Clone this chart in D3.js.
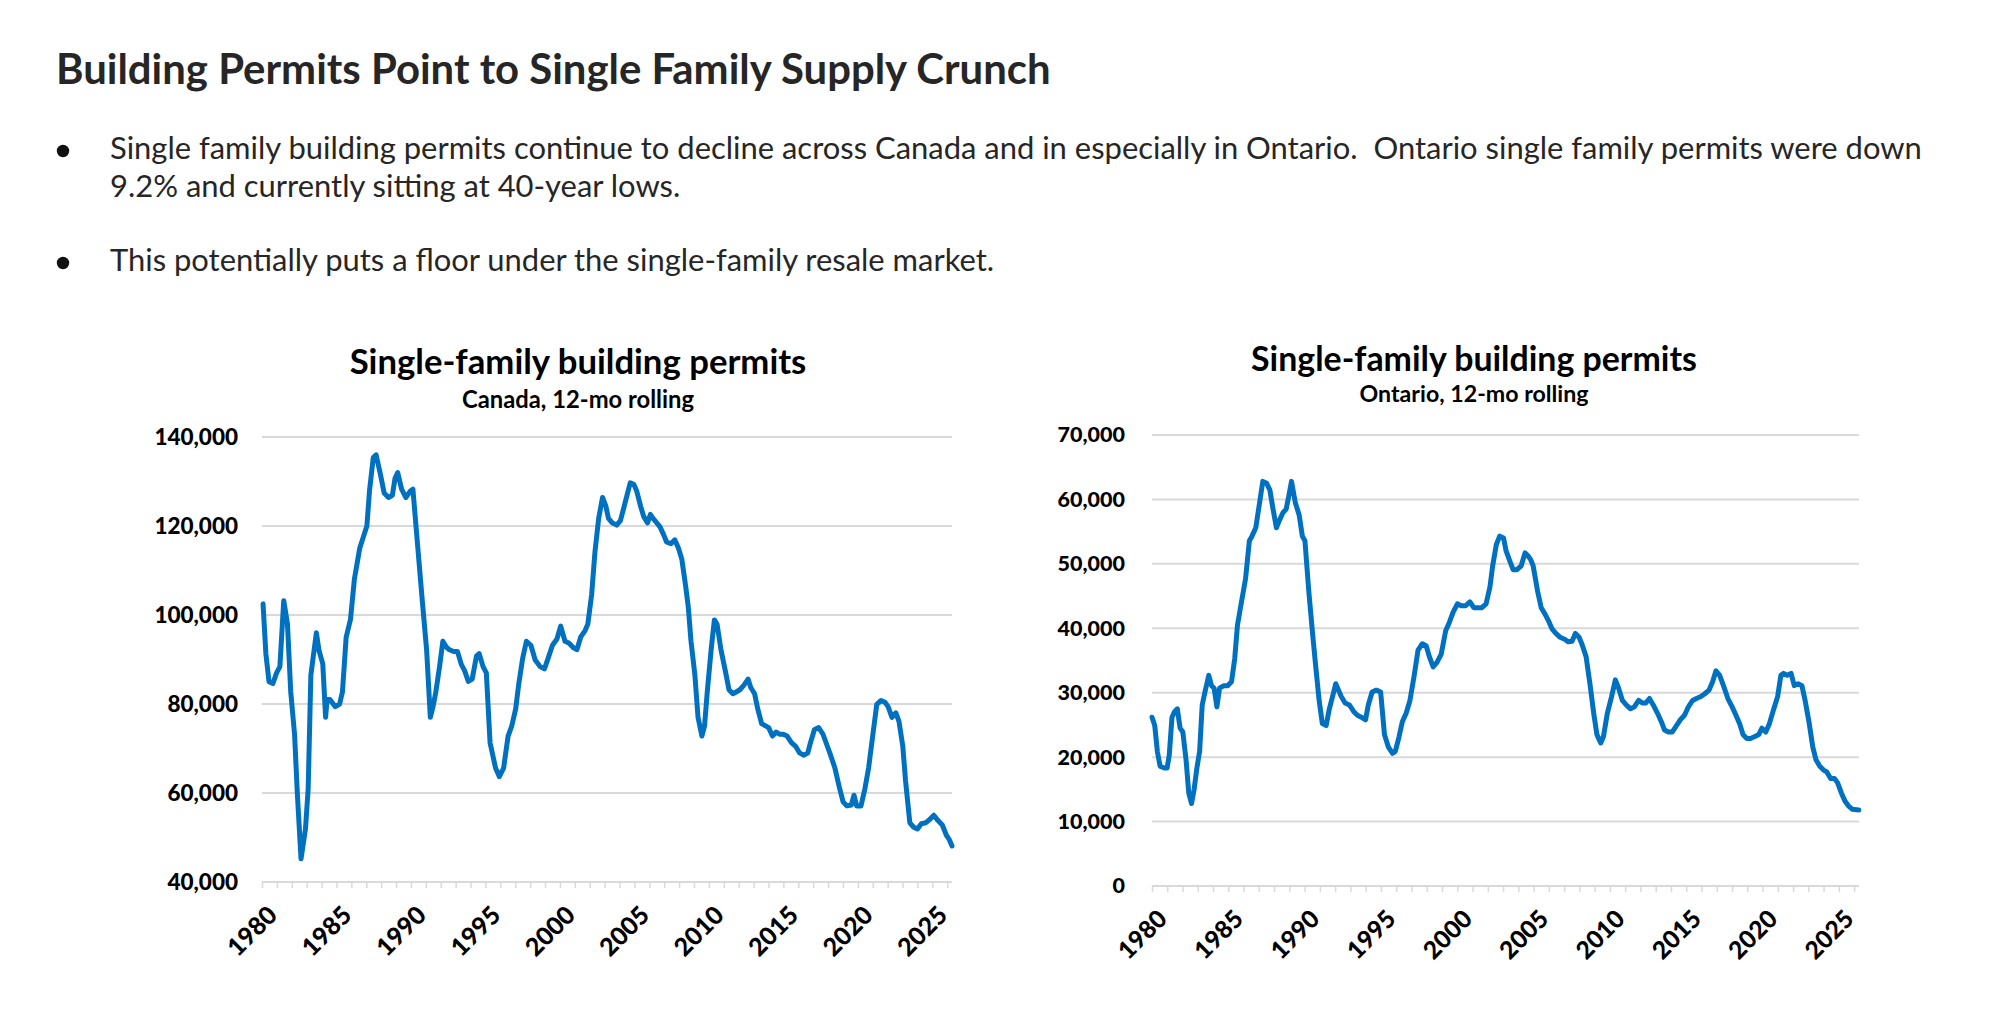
<!DOCTYPE html>
<html>
<head>
<meta charset="utf-8">
<script src="https://cdn.jsdelivr.net/npm/d3@7"></script>
<style>
  html, body { margin: 0; padding: 0; background: #ffffff; }
  svg { display: block; }
  text { white-space: pre; }
</style>
</head>
<body>
<svg id="chart" width="1995" height="1016"></svg>
<script>
// ---------------- DATA ----------------
const pageTitle = "Building Permits Point to Single Family Supply Crunch";
const bullet1Lines = [
  "Single family building permits continue to decline across Canada and in especially in Ontario.  Ontario single family permits were down",
  "9.2% and currently sitting at 40-year lows."
];
const bullet2Lines = ["This potentially puts a floor under the single-family resale market."];

const chartTitle = "Single-family building permits";
const canadaSubtitle = "Canada, 12-mo rolling";
const ontarioSubtitle = "Ontario, 12-mo rolling";

const yearTicks = d3.range(1980, 2027);           // minor tick marks (every year)
const yearLabels = [1980, 1985, 1990, 1995, 2000, 2005, 2010, 2015, 2020, 2025];
const canadaYTicks = [40000, 60000, 80000, 100000, 120000, 140000];
const ontarioYTicks = [0, 10000, 20000, 30000, 40000, 50000, 60000, 70000];

// [year, permits (thousands)]
const canadaSeries = [
  [1980.07,102.5],[1980.26,91.3],[1980.47,85.0],[1980.73,84.6],[1980.98,87.0],[1981.20,88.4],
  [1981.46,103.2],[1981.71,98.0],[1981.93,82.7],[1982.19,73.0],[1982.37,60.0],[1982.62,45.2],
  [1982.92,52.0],[1983.10,61.0],[1983.28,86.5],[1983.65,96.0],[1983.83,92.0],[1984.08,89.0],
  [1984.27,77.0],[1984.37,81.0],[1984.56,81.0],[1984.92,79.4],[1985.21,80.0],[1985.40,82.7],
  [1985.65,95.0],[1985.94,99.0],[1986.20,108.0],[1986.56,115.0],[1987.04,120.0],[1987.22,128.0],
  [1987.47,135.4],[1987.66,136.0],[1987.95,131.6],[1988.20,127.4],[1988.49,126.4],[1988.75,126.9],
  [1988.93,130.7],[1989.11,132.0],[1989.37,128.3],[1989.66,126.4],[1989.95,127.8],[1990.13,128.3],
  [1990.39,117.9],[1990.75,103.6],[1991.05,92.2],[1991.30,77.0],[1991.48,79.4],[1991.67,82.7],
  [1991.92,88.4],[1992.14,94.1],[1992.40,92.7],[1992.58,92.2],[1992.87,91.8],[1993.12,91.8],
  [1993.38,88.9],[1993.60,87.5],[1993.85,85.1],[1994.11,85.6],[1994.40,90.8],[1994.58,91.3],
  [1994.84,88.4],[1995.06,87.0],[1995.31,71.3],[1995.68,65.6],[1995.93,63.7],[1996.22,65.6],
  [1996.52,72.8],[1996.77,75.1],[1997.03,78.9],[1997.24,84.6],[1997.50,90.3],[1997.75,94.1],
  [1998.05,93.2],[1998.34,89.9],[1998.67,88.4],[1998.96,87.9],[1999.21,90.3],[1999.50,93.2],
  [1999.80,94.6],[2000.05,97.5],[2000.34,94.1],[2000.60,93.7],[2000.89,92.7],[2001.14,92.2],
  [2001.40,95.1],[2001.69,96.5],[2001.87,97.9],[2002.13,104.6],[2002.35,114.1],[2002.60,121.7],
  [2002.86,126.4],[2003.08,124.5],[2003.26,121.7],[2003.51,120.7],[2003.81,120.2],[2004.06,121.2],
  [2004.32,124.5],[2004.54,127.4],[2004.72,129.7],[2004.97,129.3],[2005.16,127.8],[2005.41,124.5],
  [2005.63,122.1],[2005.88,120.7],[2006.07,122.6],[2006.25,121.7],[2006.50,120.7],[2006.72,119.8],
  [2006.98,117.9],[2007.16,116.4],[2007.45,116.0],[2007.71,116.9],[2007.96,115.0],[2008.18,112.6],
  [2008.44,106.5],[2008.62,101.7],[2008.80,94.1],[2009.06,86.5],[2009.27,77.0],[2009.53,72.8],
  [2009.71,75.1],[2009.89,82.7],[2010.15,92.2],[2010.37,98.9],[2010.55,97.9],[2010.81,92.2],
  [2011.10,87.5],[2011.35,83.2],[2011.61,82.3],[2011.83,82.7],[2012.08,83.2],[2012.34,84.2],
  [2012.63,85.6],[2012.81,83.7],[2013.07,82.3],[2013.28,78.9],[2013.54,75.6],[2013.80,75.1],
  [2014.01,74.7],[2014.27,72.8],[2014.52,73.7],[2014.74,73.2],[2015.00,73.2],[2015.25,72.8],
  [2015.54,71.3],[2015.84,70.4],[2016.09,69.0],[2016.35,68.5],[2016.64,69.0],[2016.82,71.3],
  [2017.08,74.2],[2017.37,74.7],[2017.66,73.2],[2017.91,70.9],[2018.17,68.5],[2018.46,65.6],
  [2018.75,61.4],[2019.01,58.0],[2019.26,57.1],[2019.56,57.3],[2019.74,59.5],[2019.92,57.1],
  [2020.21,57.1],[2020.47,60.9],[2020.72,65.6],[2021.01,73.2],[2021.27,79.9],[2021.56,80.8],
  [2021.82,80.4],[2022.03,79.4],[2022.29,77.0],[2022.55,78.0],[2022.76,76.1],[2023.02,70.4],
  [2023.20,62.8],[2023.49,53.3],[2023.75,52.3],[2024.00,51.9],[2024.26,53.1],[2024.55,53.3],
  [2024.84,54.1],[2025.10,55.0],[2025.38,53.8],[2025.67,52.8],[2025.96,50.4],[2026.14,49.5],
  [2026.32,48.1]
];

const ontarioSeries = [
  [1980.00,26.2],[1980.18,24.9],[1980.35,20.9],[1980.53,18.6],[1980.81,18.3],[1980.99,18.3],
  [1981.13,20.3],[1981.31,26.2],[1981.49,27.1],[1981.66,27.5],[1981.84,24.5],[1982.02,23.9],
  [1982.23,19.6],[1982.41,14.4],[1982.59,12.8],[1982.76,15.0],[1982.94,18.3],[1983.12,20.9],
  [1983.29,28.1],[1983.47,30.1],[1983.72,32.7],[1983.90,31.1],[1984.07,30.7],[1984.25,27.8],
  [1984.43,30.7],[1984.71,31.1],[1984.96,31.1],[1985.21,31.7],[1985.42,35.3],[1985.60,40.5],
  [1985.84,43.8],[1986.13,47.7],[1986.38,53.6],[1986.55,54.3],[1986.80,55.6],[1987.01,58.9],
  [1987.26,62.8],[1987.51,62.5],[1987.72,61.5],[1987.90,58.9],[1988.15,55.6],[1988.32,56.6],
  [1988.57,57.9],[1988.79,58.5],[1988.96,60.5],[1989.14,62.8],[1989.39,59.5],[1989.64,57.6],
  [1989.85,54.3],[1990.02,53.6],[1990.27,45.8],[1990.52,39.2],[1990.73,34.0],[1990.95,28.8],
  [1991.16,25.2],[1991.41,24.9],[1991.62,27.5],[1991.87,29.8],[1992.04,31.4],[1992.22,30.4],
  [1992.40,29.4],[1992.65,28.4],[1992.93,28.1],[1993.21,27.1],[1993.46,26.5],[1993.71,26.2],
  [1993.99,25.8],[1994.17,28.1],[1994.42,30.1],[1994.70,30.4],[1994.98,30.1],[1995.23,23.5],
  [1995.48,21.6],[1995.76,20.6],[1995.94,20.9],[1996.19,23.2],[1996.40,25.5],[1996.65,26.8],
  [1996.90,28.8],[1997.18,32.7],[1997.43,36.6],[1997.71,37.6],[1997.96,37.3],[1998.17,35.6],
  [1998.42,34.0],[1998.67,34.7],[1998.95,36.0],[1999.24,39.6],[1999.48,40.9],[1999.73,42.5],
  [2000.01,43.8],[2000.26,43.5],[2000.55,43.5],[2000.83,44.1],[2001.08,43.2],[2001.36,43.2],
  [2001.61,43.2],[2001.89,43.8],[2002.14,46.4],[2002.32,49.7],[2002.56,53.0],[2002.78,54.3],
  [2003.03,54.0],[2003.20,52.0],[2003.45,50.4],[2003.66,49.1],[2003.91,49.1],[2004.19,49.7],
  [2004.44,51.7],[2004.62,51.3],[2004.80,50.7],[2004.97,49.7],[2005.26,45.8],[2005.50,43.2],
  [2005.75,42.2],[2005.97,41.2],[2006.21,39.9],[2006.46,39.2],[2006.74,38.6],[2007.03,38.3],
  [2007.28,37.9],[2007.52,38.0],[2007.74,39.2],[2007.98,38.6],[2008.16,37.6],[2008.44,35.6],
  [2008.69,31.4],[2008.94,26.8],[2009.15,23.5],[2009.40,22.2],[2009.58,23.2],[2009.83,26.8],
  [2010.11,29.4],[2010.36,32.0],[2010.57,30.7],[2010.82,28.8],[2011.07,28.1],[2011.35,27.5],
  [2011.60,27.8],[2011.88,28.8],[2012.13,28.4],[2012.34,28.4],[2012.59,29.1],[2012.84,28.1],
  [2013.12,26.8],[2013.37,25.5],[2013.58,24.2],[2013.83,23.9],[2014.08,23.9],[2014.36,24.9],
  [2014.61,25.8],[2014.89,26.5],[2015.14,27.8],[2015.42,28.8],[2015.67,29.1],[2015.96,29.4],
  [2016.20,29.8],[2016.49,30.4],[2016.73,31.7],[2016.95,33.4],[2017.19,32.7],[2017.44,31.1],
  [2017.73,29.1],[2018.01,27.8],[2018.26,26.5],[2018.50,25.2],[2018.72,23.5],[2018.97,22.9],
  [2019.21,22.9],[2019.50,23.2],[2019.75,23.5],[2019.96,24.5],[2020.21,23.9],[2020.45,25.2],
  [2020.74,27.5],[2020.99,29.4],[2021.20,32.7],[2021.37,33.0],[2021.62,32.7],[2021.87,33.0],
  [2022.08,31.1],[2022.33,31.4],[2022.58,31.1],[2022.79,28.8],[2023.04,25.5],[2023.29,21.6],
  [2023.50,19.6],[2023.75,18.6],[2024.00,18.0],[2024.21,17.7],[2024.46,16.7],[2024.71,16.7],
  [2024.92,16.0],[2025.17,14.4],[2025.42,13.1],[2025.64,12.4],[2025.89,11.9],[2026.31,11.8]
];

// ---------------- DRAW ----------------
const svg = d3.select("#chart");
const TEXT = "#262626";
const GRID = "#d9d9d9";
const LINE = "#0070c0";

function fitWidth(sel, target) {
  const w = sel.node().getComputedTextLength();
  const fs = parseFloat(sel.attr("font-size"));
  const nfs = fs * target / w;
  sel.attr("font-size", nfs);
  return nfs;
}

// page title
const t = svg.append("text")
  .attr("x", 56).attr("y", 84)
  .attr("font-family", "Lato").attr("font-weight", 700)
  .attr("font-size", 38).attr("fill", TEXT)
  .text(pageTitle);
fitWidth(t, 995);

// bullets
const b1 = svg.append("text")
  .attr("x", 110).attr("y", 159)
  .attr("font-family", "Lato").attr("font-size", 28).attr("fill", TEXT)
  .text(bullet1Lines[0]);
const bfs = fitWidth(b1, 1812);
svg.append("text")
  .attr("x", 110).attr("y", 197)
  .attr("font-family", "Lato").attr("font-size", bfs).attr("fill", TEXT)
  .text(bullet1Lines[1]);
svg.append("text")
  .attr("x", 110).attr("y", 271)
  .attr("font-family", "Lato").attr("font-size", bfs).attr("fill", TEXT)
  .text(bullet2Lines[0]);
[151, 263].forEach(cy => {
  svg.append("circle").attr("cx", 63).attr("cy", cy).attr("r", 6.2).attr("fill", "#111");
});

function drawChart(cfg) {
  const g = svg.append("g");
  const x = d3.scaleLinear().domain([1980, 2026.32]).range([cfg.x0, cfg.x1]);
  const y = d3.scaleLinear().domain(cfg.yDomain).range([cfg.yBottom, cfg.yTop]);

  // titles
  const tt = g.append("text")
    .attr("x", cfg.titleX).attr("y", cfg.titleY)
    .attr("text-anchor", "middle")
    .attr("font-family", "Lato").attr("font-weight", 700)
    .attr("font-size", 29).attr("fill", "#000")
    .text(chartTitle);
  fitWidth(tt, cfg.titleW);
  const st = g.append("text")
    .attr("x", cfg.titleX).attr("y", cfg.subY)
    .attr("text-anchor", "middle")
    .attr("font-family", "Lato").attr("font-weight", 700)
    .attr("font-size", 19).attr("fill", "#000")
    .text(cfg.subtitle);
  fitWidth(st, cfg.subW);

  // gridlines (all but bottom)
  g.append("g").selectAll("line")
    .data(cfg.yTicks.slice(1))
    .join("line")
    .attr("x1", cfg.x0).attr("x2", cfg.x1)
    .attr("y1", d => y(d)).attr("y2", d => y(d))
    .attr("stroke", GRID).attr("stroke-width", 2);

  // y axis labels
  const yAxis = d3.axisLeft(y).tickValues(cfg.yTicks)
    .tickFormat(d3.format(",")).tickSize(0).tickPadding(0);
  const ya = g.append("g").attr("transform", `translate(${cfg.labelRight},0)`).call(yAxis);
  ya.select(".domain").remove();
  ya.selectAll("text")
    .attr("font-family", "Lato").attr("font-weight", 900)
    .attr("font-size", cfg.yFont).attr("fill", "#000");

  // x axis with yearly minor ticks
  const xAxis = d3.axisBottom(x).tickValues(yearTicks).tickSize(6).tickFormat("");
  const xa = g.append("g").attr("transform", `translate(0,${cfg.yBottom})`).call(xAxis);
  xa.select(".domain").attr("stroke", GRID).attr("stroke-width", 2)
    .attr("d", `M${cfg.x0},0H${cfg.x1}`);
  xa.selectAll(".tick line").attr("stroke", GRID).attr("stroke-width", 1.5);

  // year labels
  g.append("g").selectAll("text")
    .data(yearLabels)
    .join("text")
    .attr("transform", d => `translate(${x(d) + 4},${cfg.yBottom + 22}) rotate(-45)`)
    .attr("dy", "0.72em")
    .attr("text-anchor", "end")
    .attr("font-family", "Lato").attr("font-weight", 900)
    .attr("font-size", cfg.xFont).attr("fill", "#000")
    .text(d => d);

  // series line
  const line = d3.line().x(d => x(d[0])).y(d => y(d[1] * 1000));
  g.append("path")
    .datum(cfg.series)
    .attr("d", line)
    .attr("fill", "none")
    .attr("stroke", LINE)
    .attr("stroke-width", 5)
    .attr("stroke-linejoin", "round")
    .attr("stroke-linecap", "round");
}

drawChart({
  series: canadaSeries, yDomain: [40000, 140000], yTicks: canadaYTicks,
  x0: 262, x1: 952, yBottom: 882, yTop: 437, labelRight: 238,
  titleX: 578, titleY: 374, titleW: 457, subtitle: canadaSubtitle, subY: 408, subW: 232,
  yFont: 22.5, xFont: 25
});
drawChart({
  series: ontarioSeries, yDomain: [0, 70000], yTicks: ontarioYTicks,
  x0: 1152, x1: 1859, yBottom: 886, yTop: 435, labelRight: 1125,
  titleX: 1474, titleY: 371, titleW: 446, subtitle: ontarioSubtitle, subY: 402, subW: 229,
  yFont: 21.5, xFont: 24.5
});
</script>
</body>
</html>
